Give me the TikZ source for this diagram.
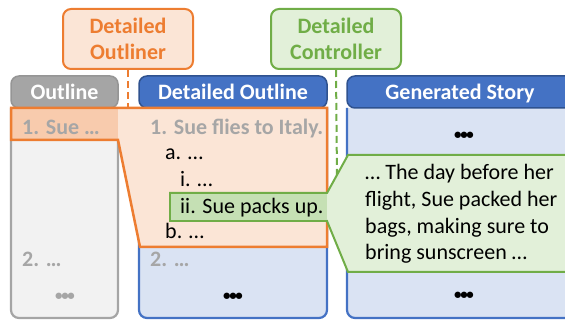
\documentclass[tikz,border=0pt]{standalone}
\usepackage{fontspec}
\setmainfont{Carlito}
\definecolor{cOrange}{HTML}{ED7D31}
\definecolor{cOrangeL}{HTML}{FBE5D6}
\definecolor{cOrangeM}{HTML}{F8CBAD}
\definecolor{cGreen}{HTML}{70AD47}
\definecolor{cGreenL}{HTML}{E2F0D9}
\definecolor{cGreenM}{HTML}{C5E0B4}
\definecolor{cBlue}{HTML}{4472C4}
\definecolor{cBlueD}{HTML}{2F528F}
\definecolor{cBlueL}{HTML}{DAE3F3}
\definecolor{cGray}{HTML}{A5A5A5}
\definecolor{cGrayD}{HTML}{959595}
\definecolor{cGrayL}{HTML}{F2F2F2}
\definecolor{cText}{HTML}{A6A6A6}
\newcommand\tridots{•\kern-1.3pt•\kern-1.3pt•}
\begin{document}
\begin{tikzpicture}[x=1pt,y=-1pt,
  fnt/.style={font=\fontsize{22}{26.7}\selectfont},
  bfnt/.style={font=\fontsize{22}{26.7}\selectfont\bfseries},
  txt/.style={fnt,inner sep=0pt,anchor=base west,text=black},
  gtxt/.style={bfnt,inner sep=0pt,anchor=base west,text=cText},
  hdr/.style={bfnt,inner sep=0pt,anchor=base,text=white},
  tool/.style={bfnt,line width=2pt,rounded corners=8pt,minimum width=130pt,minimum height=60pt,align=center,inner sep=0pt},
  dots/.style={font=\fontsize{15}{18}\selectfont\bfseries,inner sep=0pt,anchor=center},
  dashline/.style={line width=2pt,dash pattern=on 7pt off 4pt}
]
\useasboundingbox (0,0) rectangle (565,320);
\clip (0,0) rectangle (565,320);
% tools
\node[tool,draw=cOrange,fill=cOrangeL,text=cOrange] (outliner) at (128,39) {Detailed\\Outliner};
\node[tool,draw=cGreen,fill=cGreenL,text=cGreen] (controller) at (336,39) {Detailed\\Controller};
\coordinate (o1) at (128,108);
\coordinate (c1) at (337,178);
\draw[dashline,cOrange] (outliner.south) -- (o1);
\draw[dashline,cGreen] (controller.south) -- (c1);
% columns
\draw[line width=2.2pt,draw=cGray,fill=cGrayL,rounded corners=8pt] (11,108) -- (11,318) -- (118,318) -- (118,108);
\draw[line width=1.5pt,draw=cGrayD,fill=cGray,rounded corners=8pt] (11,108) -- (11,76) -- (118,76) -- (118,108) -- cycle;
\draw[line width=2.2pt,draw=cBlue,fill=cBlueL,rounded corners=8pt] (139,108) -- (139,318) -- (327,318) -- (327,108);
\draw[line width=1.5pt,draw=cBlueD,fill=cBlue,rounded corners=8pt] (139,108) -- (139,76) -- (327,76) -- (327,108) -- cycle;
\draw[line width=2.2pt,draw=cBlue,fill=cBlueL,rounded corners=8pt] (347,108) -- (347,318) -- (580,318) -- (580,108);
\draw[line width=1.5pt,draw=cBlueD,fill=cBlue,rounded corners=8pt] (347,108) -- (347,76) -- (580,76) -- (580,108) -- cycle;
\node[hdr] (h1) at (64.5,100) {Outline};
\node[hdr] (h2) at (233,100) {Detailed Outline};
\node[hdr] (h3) at (460,100) {Generated Story};
% orange highlight
\fill[cOrangeL] (11,108) -- (327,108) -- (327,247) -- (140,247) -- (118,140) -- (11,140) -- cycle;
\fill[cOrangeM] (11,108) rectangle (118,140);
\draw[line width=2.5pt,cOrange,line join=miter] (11,108) -- (327,108) -- (327,247) -- (140,247) -- (118,140) -- (11,140) -- cycle;
% outline texts
\node[gtxt] (t1) at (22,135) {1. Sue …};
\node[gtxt] (t2) at (22,267) {2. …};
\node[dots,text=cText] (t3) at (65,297) {\tridots};
\node[gtxt] (d1) at (150,135) {1. Sue flies to Italy.};
\node[txt] (d2) at (165,160) {a. …};
\node[txt] (d3) at (180,187) {i. …};
\node[txt] (d5) at (165,239) {b. …};
\node[gtxt] (d6) at (150,267) {2. …};
\node[dots,text=black] (d7) at (233,297) {\tridots};
\node[dots,text=black] (s1) at (464,136) {\tridots};
\node[dots,text=black] (s2) at (464,296) {\tridots};
% green callout
\draw[line width=2pt,cGreen,fill=cGreenL,line join=miter] (170,193) -- (327,193) -- (348,155) -- (580,155) -- (580,272) -- (348,272) -- (327,221) -- (170,221) -- cycle;
\fill[cGreenM] (171,194) rectangle (327,220);
\node[txt,align=left,anchor=base west] (d4) at (180,214) {ii. Sue packs up.};
\node[txt,align=left,anchor=base west] (story) at (365,260) {… The day before her\\flight, Sue packed her\\bags, making sure to\\bring sunscreen …};
\end{tikzpicture}
\end{document}
